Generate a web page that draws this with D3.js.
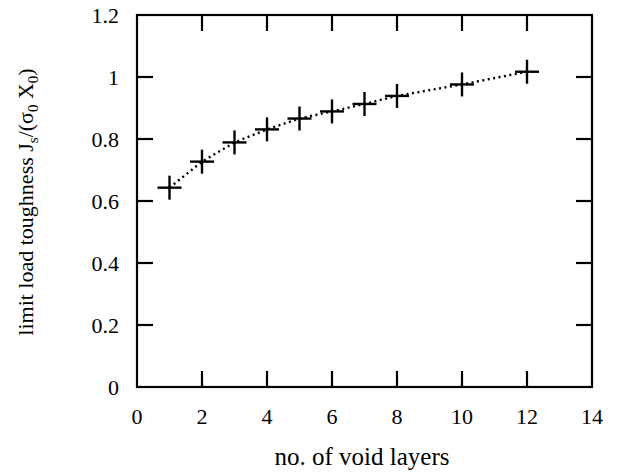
<!DOCTYPE html>
<html>
<head>
<meta charset="utf-8">
<script src="https://cdn.jsdelivr.net/npm/d3@7"></script>
<style>
  body { margin: 0; background: #fff; }
</style>
</head>
<body>
<div id="chart"></div>
<script>
// data
var layers = [1, 2, 3, 4, 5, 6, 7, 8, 10, 12];
var toughness = [0.643, 0.727, 0.789, 0.831, 0.866, 0.889, 0.913, 0.939, 0.976, 1.017];
var xTicks = [0, 2, 4, 6, 8, 10, 12, 14];
var yTicks = [0, 0.2, 0.4, 0.6, 0.8, 1, 1.2];

function init(){
    var w = 627, h = 472;
    var left = 137, right = 592, top = 15, bottom = 387;
    var tick = 16;
    var font = "'Liberation Serif', 'Times New Roman', 'DejaVu Serif', serif";

    var svg = d3.select("#chart").append("svg")
        .attr("width", w).attr("height", h)
        .attr("font-family", font);

    var x = d3.scaleLinear().domain([0, 14]).range([left, right]);
    var y = d3.scaleLinear().domain([0, 1.2]).range([bottom, top]);

    // frame
    svg.append("rect")
        .attr("x", left).attr("y", top)
        .attr("width", right - left).attr("height", bottom - top)
        .attr("fill", "none").attr("stroke", "#000").attr("stroke-width", 2.2);

    // x ticks, bottom and mirrored on top
    xTicks.forEach(function(t){
        if (t > 0 && t < 14) {
            svg.append("line").attr("x1", x(t)).attr("x2", x(t))
                .attr("y1", bottom).attr("y2", bottom - tick)
                .attr("stroke", "#000").attr("stroke-width", 2.2);
            svg.append("line").attr("x1", x(t)).attr("x2", x(t))
                .attr("y1", top).attr("y2", top + tick)
                .attr("stroke", "#000").attr("stroke-width", 2.2);
        }
        svg.append("text").attr("x", x(t)).attr("y", bottom + 37)
            .attr("text-anchor", "middle").attr("font-size", 22)
            .text(t);
    });

    // y ticks, left and mirrored on right
    yTicks.forEach(function(t){
        if (t > 0 && t < 1.2) {
            svg.append("line").attr("x1", left).attr("x2", left + tick)
                .attr("y1", y(t)).attr("y2", y(t))
                .attr("stroke", "#000").attr("stroke-width", 2.2);
            svg.append("line").attr("x1", right).attr("x2", right - tick)
                .attr("y1", y(t)).attr("y2", y(t))
                .attr("stroke", "#000").attr("stroke-width", 2.2);
        }
        svg.append("text").attr("x", left - 18).attr("y", y(t) + 8)
            .attr("text-anchor", "end").attr("font-size", 22)
            .text(t);
    });

    // dotted line
    var line = d3.line()
        .x(function(d, i){ return x(layers[i]); })
        .y(function(d){ return y(d); });

    svg.append("path").datum(toughness)
        .attr("d", line)
        .attr("fill", "none").attr("stroke", "#000")
        .attr("stroke-width", 2.4).attr("stroke-dasharray", "2,3.5");

    // plus markers
    var pts = svg.selectAll("g.pt").data(toughness).enter().append("g")
        .attr("transform", function(d, i){ return "translate(" + x(layers[i]) + "," + y(d) + ")"; });
    pts.append("line").attr("x1", -12).attr("x2", 12).attr("y1", 0).attr("y2", 0)
        .attr("stroke", "#000").attr("stroke-width", 2.4);
    pts.append("line").attr("x1", 0).attr("x2", 0).attr("y1", -12).attr("y2", 12)
        .attr("stroke", "#000").attr("stroke-width", 2.4);

    // axis titles
    svg.append("text").attr("x", 362).attr("y", 465)
        .attr("text-anchor", "middle").attr("font-size", 25)
        .text("no. of void layers");

    var yl = svg.append("text")
        .attr("transform", "translate(33,202) rotate(-90)")
        .attr("text-anchor", "middle").attr("font-size", 22);
    yl.append("tspan").text("limit load toughness J");
    yl.append("tspan").attr("font-size", 15).attr("dy", 5).text("s");
    yl.append("tspan").attr("dy", -5).text("/(σ");
    yl.append("tspan").attr("font-size", 15).attr("dy", 5).text("0");
    yl.append("tspan").attr("dy", -5).text(" X");
    yl.append("tspan").attr("font-size", 15).attr("dy", 5).text("0");
    yl.append("tspan").attr("dy", -5).text(")");
}
window.onload = init;
</script>
</body>
</html>
